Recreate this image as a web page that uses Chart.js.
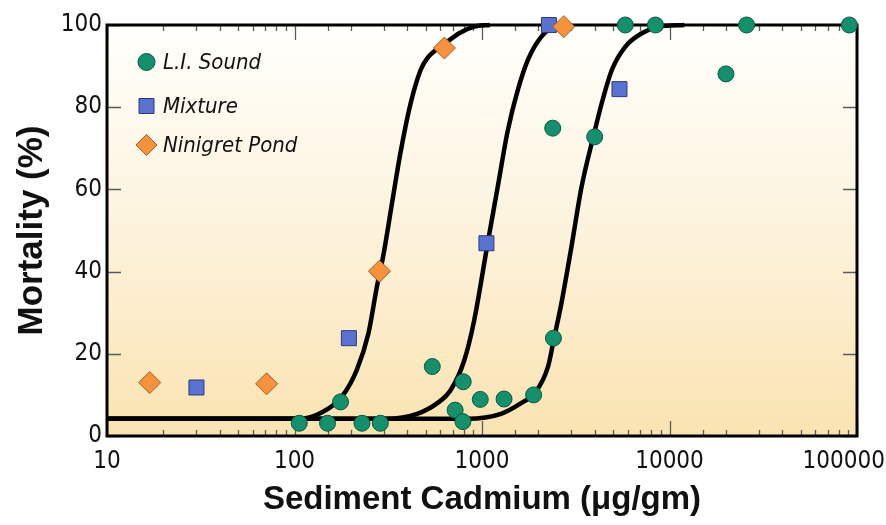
<!DOCTYPE html>
<html>
<head>
<meta charset="utf-8">
<title>Mortality vs Sediment Cadmium</title>
<script src="https://cdn.jsdelivr.net/npm/chart.js@4/dist/chart.umd.min.js"></script>
<style>
  html, body { margin: 0; padding: 0; background: #ffffff; }
  #c { display: block; }
</style>
</head>
<body>
<canvas id="c" width="886" height="525"></canvas>
<script>
// Axis tick labels
const xTickLabels = [10, 100, 1000, 10000, 100000];
const yTickLabels = [0, 20, 40, 60, 80, 100];

// Observed mortality, L.I. Sound sediment
const liSoundCd   = [106, 150, 176, 229, 287, 543, 794, 719, 791, 979, 1311, 1885, 2405, 2383, 3990, 5810, 8415, 20000, 25770, 91000];
const liSoundMort = [3.1, 3.1, 8.3, 3.1, 3.1, 16.9, 13.2, 6.3, 3.5, 8.9, 9.0, 10.0, 23.8, 74.9, 72.8, 100, 100, 88.1, 100, 100];

// Observed mortality, mixed sediment
const mixtureCd   = [30, 195, 1056, 2276, 5410];
const mixtureMort = [11.8, 23.8, 46.9, 100, 84.4];

// Observed mortality, Ninigret Pond sediment
const ninigretCd   = [16.9, 71, 284, 630, 2730];
const ninigretMort = [13.0, 12.7, 40.1, 94.4, 99.6];

// Dose-response curves (left to right: Ninigret Pond, Mixture, L.I. Sound)
const fitNinigretCd   = [10, 107, 142, 179, 215, 248, 275, 299, 331, 367, 416, 470, 510, 628, 755, 909, 1100];
const fitNinigretMort = [4.2, 4.2, 5.9, 9.6, 16.1, 25.0, 36.3, 44.4, 56.6, 68.8, 80.9, 89.0, 91.9, 95.3, 98.0, 99.6, 100];

const fitMixtureCd   = [10, 311, 451, 578, 681, 803, 909, 1072, 1213, 1372, 1553, 1757, 2070, 2443, 3000];
const fitMixtureMort = [4.2, 4.2, 5.4, 8.0, 11.2, 18.3, 28.2, 46.9, 60.6, 74.3, 84.2, 91.5, 97.1, 99.6, 100];

const fitLiSoundCd   = [10, 837, 1263, 1618, 1909, 2250, 2423, 2652, 3001, 3396, 3924, 4347, 4919, 5805, 7128, 8762, 12000];
const fitLiSoundMort = [4.2, 4.2, 5.4, 8.0, 10.4, 16.9, 23.8, 32.3, 46.1, 60.6, 72.8, 80.9, 89.0, 94.7, 98.0, 99.6, 100];

const toPoints = (xs, ys) => xs.map((x, i) => ({ x: x, y: ys[i] }));

const NARROW = "'Liberation Sans Narrow', 'Arial Narrow', 'DejaVu Sans Condensed', sans-serif";
const SANS = "'Liberation Sans', Arial, Helvetica, sans-serif";
const TICK_FONT = "24px " + NARROW;

function curve(label, xs, ys) {
  return {
    type: 'line',
    label: label,
    data: toPoints(xs, ys),
    borderColor: '#000000',
    borderWidth: 4.5,
    pointRadius: 0,
    fill: false,
    cubicInterpolationMode: 'monotone',
    clip: false,
    order: 5,
    isCurve: true
  };
}

const isPow10 = v => Math.abs(Math.log10(v) - Math.round(Math.log10(v))) < 1e-9;

// Gradient panel, frame, inward tick marks, x tick labels and legend
const panelPlugin = {
  id: 'panel',
  beforeDraw(chart) {
    const { ctx, chartArea: a } = chart;
    const g = ctx.createLinearGradient(0, a.top, 0, a.bottom);
    g.addColorStop(0, '#fffffc');
    g.addColorStop(0.45, '#fdf4e0');
    g.addColorStop(1, '#fae3b1');
    ctx.save();
    ctx.fillStyle = g;
    ctx.fillRect(a.left, a.top, a.right - a.left, a.bottom - a.top);
    ctx.restore();
  },
  beforeDatasetsDraw(chart) {
    const { ctx, chartArea: a, scales } = chart;
    ctx.save();
    ctx.strokeStyle = '#5a5a5a';
    ctx.lineWidth = 1.3;
    ctx.beginPath();
    scales.x.ticks.forEach(t => {
      const px = Math.round(scales.x.getPixelForValue(t.value)) + 0.5;
      const len = isPow10(t.value) ? 15 : 6;
      ctx.moveTo(px, a.bottom); ctx.lineTo(px, a.bottom - len);
      ctx.moveTo(px, a.top); ctx.lineTo(px, a.top + len);
    });
    scales.y.ticks.forEach(t => {
      const py = Math.round(scales.y.getPixelForValue(t.value)) + 0.5;
      ctx.moveTo(a.left, py); ctx.lineTo(a.left + 14, py);
      ctx.moveTo(a.right, py); ctx.lineTo(a.right - 14, py);
    });
    ctx.stroke();
    ctx.strokeStyle = '#000000';
    ctx.lineWidth = 3;
    ctx.strokeRect(a.left, a.top, a.right - a.left, a.bottom - a.top);
    ctx.restore();
  },
  afterDraw(chart) {
    const { ctx, scales, chartArea: a, width } = chart;

    // x tick labels, the last one kept inside the canvas
    ctx.save();
    ctx.font = TICK_FONT;
    ctx.fillStyle = '#111111';
    ctx.textBaseline = 'middle';
    ctx.textAlign = 'left';
    xTickLabels.forEach(v => {
      const s = String(v);
      const w = ctx.measureText(s).width;
      let left = scales.x.getPixelForValue(v) - w / 2;
      if (left + w > width - 1) left = width - 1 - w;
      ctx.fillText(s, left, a.bottom + 26);
    });
    ctx.restore();

    // Legend inside the panel, upper left
    const entries = chart.data.datasets.filter(d => !d.isCurve);
    const rows = [62, 106, 145];
    ctx.save();
    ctx.font = "italic 22px " + NARROW;
    ctx.textBaseline = 'middle';
    entries.forEach((d, i) => {
      const cx = 146.5, cy = rows[i];
      ctx.fillStyle = d.backgroundColor;
      ctx.strokeStyle = d.borderColor;
      ctx.lineWidth = 1;
      ctx.beginPath();
      if (d.pointStyle === 'circle') {
        ctx.arc(cx, cy, 8.5, 0, Math.PI * 2);
      } else if (d.pointStyle === 'rect') {
        ctx.rect(cx - 7.5, cy - 7.5, 15, 15);
      } else {
        ctx.moveTo(cx - 10.5, cy); ctx.lineTo(cx, cy - 10.5);
        ctx.lineTo(cx + 10.5, cy); ctx.lineTo(cx, cy + 10.5);
        ctx.closePath();
      }
      ctx.fill();
      ctx.stroke();
      ctx.fillStyle = '#111111';
      ctx.fillText(d.label, 163, cy + 1);
    });
    ctx.restore();
  }
};

const chart = new Chart(document.getElementById('c'), {
  type: 'scatter',
  data: {
    datasets: [
      {
        label: 'L.I. Sound',
        data: toPoints(liSoundCd, liSoundMort),
        pointStyle: 'circle',
        pointRadius: 8,
        backgroundColor: '#15906c',
        borderColor: '#0b5a43',
        borderWidth: 1,
        clip: false,
        order: 2
      },
      {
        label: 'Mixture',
        data: toPoints(mixtureCd, mixtureMort),
        pointStyle: 'rect',
        pointRadius: 10.6,
        backgroundColor: '#5a71cf',
        borderColor: '#2c3b80',
        borderWidth: 1,
        clip: false,
        order: 1
      },
      {
        label: 'Ninigret Pond',
        data: toPoints(ninigretCd, ninigretMort),
        pointStyle: 'rectRot',
        pointRadius: 11,
        backgroundColor: '#f6913e',
        borderColor: '#a95f1f',
        borderWidth: 1,
        clip: false,
        order: 0
      },
      curve('Ninigret Pond fit', fitNinigretCd, fitNinigretMort),
      curve('Mixture fit', fitMixtureCd, fitMixtureMort),
      curve('L.I. Sound fit', fitLiSoundCd, fitLiSoundMort)
    ]
  },
  options: {
    responsive: false,
    devicePixelRatio: 1,
    animation: false,
    events: [],
    layout: { padding: { top: 25, right: 29, left: 0, bottom: 0 } },
    plugins: {
      legend: { display: false },
      tooltip: { enabled: false }
    },
    scales: {
      x: {
        type: 'logarithmic',
        min: 10,
        max: 100000,
        grid: { display: false, drawTicks: false },
        border: { display: false },
        ticks: { display: false, autoSkip: false, maxRotation: 0 },
        title: {
          display: true,
          text: 'Sediment Cadmium (\u03bcg/gm)',
          color: '#111111',
          font: { family: SANS, size: 33, weight: 'bold' },
          padding: { top: 0, bottom: 5 }
        },
        afterFit(scale) {
          scale.height = 89;
          scale.paddingLeft = 0;
          scale.paddingRight = 0;
        }
      },
      y: {
        type: 'linear',
        min: 0,
        max: 100,
        grid: { display: false, drawTicks: false },
        border: { display: false },
        afterBuildTicks(scale) {
          scale.ticks = yTickLabels.map(v => ({ value: v }));
        },
        ticks: {
          padding: 5,
          color: '#111111',
          font: { family: NARROW, size: 24 }
        },
        title: {
          display: true,
          text: 'Mortality (%)',
          color: '#111111',
          font: { family: SANS, size: 35, weight: 'bold' },
          padding: { top: 11, bottom: 0 }
        },
        afterFit(scale) {
          scale.width = 107;
          scale.paddingTop = 0;
          scale.paddingBottom = 0;
        }
      }
    }
  },
  plugins: [panelPlugin]
});
</script>
</body>
</html>
